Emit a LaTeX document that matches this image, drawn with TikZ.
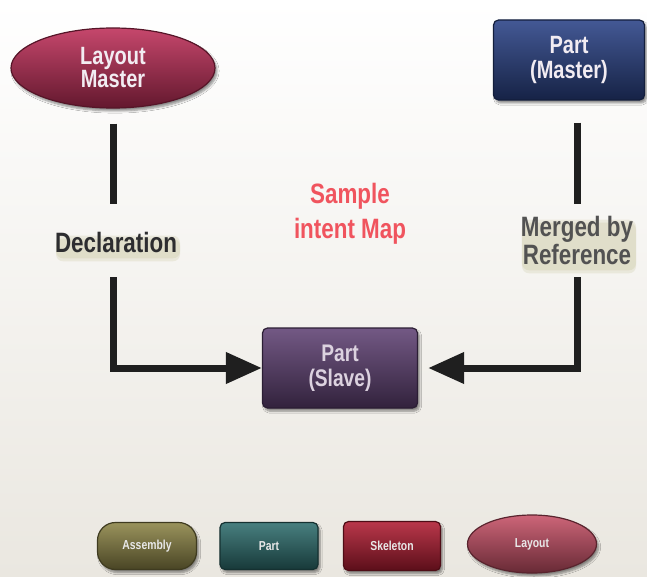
\documentclass[tikz,border=0pt]{standalone}
\usepackage{fontspec}
\setmainfont{Liberation Sans}[FakeStretch=0.8]
\usetikzlibrary{arrows.meta,shapes.geometric,shadows.blur}

\definecolor{lmcol}{RGB}{190,46,88}
\definecolor{pmcol}{RGB}{42,66,134}
\definecolor{slcol}{RGB}{96,66,116}
\definecolor{ascol}{RGB}{140,132,70}
\definecolor{ptcol}{RGB}{46,110,110}
\definecolor{skcol}{RGB}{176,28,50}
\definecolor{lycol}{RGB}{198,80,102}
\definecolor{shadecol}{RGB}{176,170,110}
\definecolor{samplered}{RGB}{240,84,94}
\definecolor{paper}{RGB}{234,231,224}
\definecolor{inktext}{RGB}{242,236,242}
\definecolor{labeltext}{RGB}{45,45,48}

\tikzset{
  bevel/.style={top color=#1!88!white, middle color=#1, bottom color=#1!52!black,
    draw=#1!45!black, line width=1.2pt,
    blur shadow={shadow xshift=2pt, shadow yshift=-3pt, shadow blur steps=6, shadow opacity=45}},
  keybox/.style={bevel=#1, rectangle, rounded corners=5pt, align=center,
    text=inktext, font=\bfseries\fontsize{25}{25}\selectfont, inner sep=0pt},
  keyoval/.style={bevel=#1, ellipse, align=center, inner sep=0pt,
    text=inktext, font=\bfseries\fontsize{25}{23}\selectfont},
  legendtext/.style={font=\bfseries\fontsize{13}{14}\selectfont, text=white!82!gray},
  % soft khaki haze below caption text
  haze/.style={preaction={fill=shadecol, fill opacity=#1, rounded corners=7pt,
      transform canvas={shift={(2pt,-5pt)}}}},
  caption/.style={align=center, inner sep=1pt, rounded corners=7pt,
    font=\bfseries\fontsize{28}{28}\selectfont, haze=.16,
    preaction={fill=shadecol, fill opacity=.16, rounded corners=7pt,
      transform canvas={shift={(2pt,-8pt)}}}},
  bar/.style={line width=7pt, draw=black!88, line cap=butt, line join=miter},
  arrowbar/.style={bar, -{Triangle[length=36pt,width=30pt]}},
}

\begin{document}
\begin{tikzpicture}[x=1pt,y=-1pt]
\useasboundingbox (0,0) rectangle (647,577);
\fill[top color=white, bottom color=paper] (0,0) rectangle (647,577);

% main elements
\node[keyoval=lmcol, minimum width=204pt, minimum height=80pt] (lm) at (113,68) {Layout\\Master};
\node[keybox=pmcol, minimum width=151pt, minimum height=80pt] (pm) at (569,60) {Part\\(Master)};
\node[keybox=slcol, minimum width=155pt, minimum height=80pt,
      font=\bfseries\fontsize{24}{25}\selectfont, text=inktext!85!slcol] (slave) at (340,368) {Part\\(Slave)};

\node[caption, text=labeltext] (decl) at (116,242) {Declaration};
\node[caption, text=black!68] (merged) at (577,240) {Merged by\\Reference};
\node[align=center, text=samplered, font=\bfseries\fontsize{28}{35}\selectfont] (sample) at (350,214) {Sample\\intent Map};

% connectors
\draw[bar, shorten <=15pt, shorten >=27pt] (lm.south) -- (lm.south |- decl.north);
\draw[arrowbar, shorten <=24pt] (lm.south |- decl.south) |- (slave.west);
\draw[bar, shorten <=22pt, shorten >=11pt] (pm.south -| merged.north) -- (merged.north);
\draw[arrowbar, shorten <=12pt, shorten >=10pt] (merged.south) |- (slave.east);

% legend
\node[bevel=ascol, rectangle, rounded corners=18pt, minimum width=99pt, minimum height=47pt,
      legendtext] (legas) at (147,546) {Assembly};
\node[keybox=ptcol, minimum width=98pt, minimum height=47pt, legendtext] (legpt) at (269,546) {Part};
\node[keybox=skcol, minimum width=97pt, minimum height=49pt, legendtext] (legsk) at (392,546) {Skeleton};
\node[keyoval=lycol, minimum width=129pt, minimum height=58pt, legendtext] (legly) at (532,544) {Layout};
\end{tikzpicture}
\end{document}
